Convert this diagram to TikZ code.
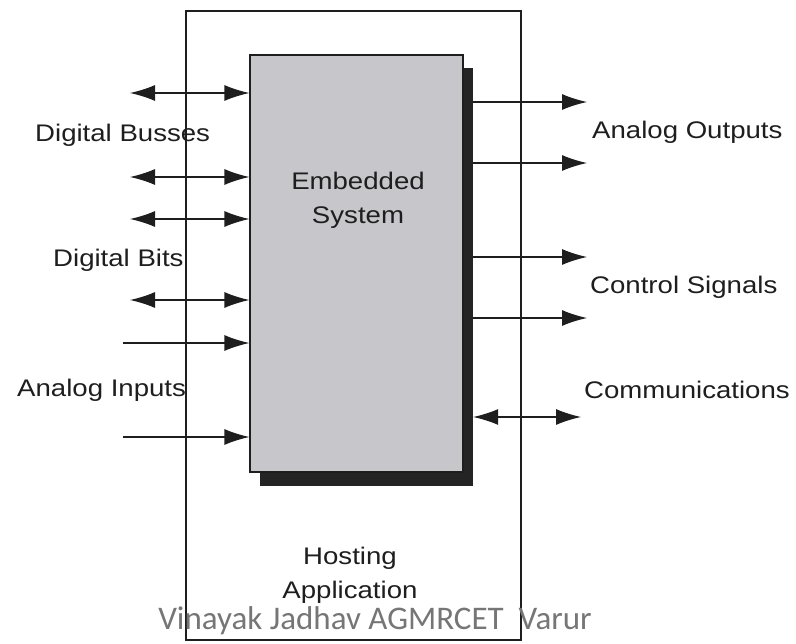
\documentclass[tikz,border=0pt]{standalone}
\usepackage{fontspec}
\setmainfont[FakeStretch=1.15]{Liberation Sans}
\newfontfamily\markfont{Carlito}
\usetikzlibrary{arrows.meta}

\definecolor{boxgray}{RGB}{198,198,203}
\definecolor{shadegray}{RGB}{36,36,36}
\definecolor{inkgray}{RGB}{30,30,30}
\definecolor{markgray}{RGB}{118,118,118}

\begin{document}
\begin{tikzpicture}[x=1pt, y=-1pt, >={Latex[length=25pt,width=16pt]},
    lbl/.style={font=\fontsize{24}{34}\selectfont, inner sep=0pt, text=inkgray},
    sig/.style={line width=1.2pt, draw=inkgray}]
    \useasboundingbox (0,0) rectangle (796,644);

    % hosting application frame
    \node[draw=inkgray, line width=1.3pt, minimum width=335pt, minimum height=629pt]
        (hosting) at (353.5,325.5) {};

    % embedded system with its shadow
    \node[fill=shadegray, minimum width=213pt, minimum height=418pt] (shade) at (366.5,277.5) {};
    \node[draw=inkgray, fill=boxgray, line width=1.2pt, minimum width=213pt, minimum height=417pt]
        (embedded) at (356.5,263.5) {};
    \node[lbl, align=center] (embtext) at (358,200) {Embedded\\System};

    % inputs
    \foreach \n/\y in {1/93,2/177,3/219,4/300} {
        \coordinate (bus\n) at (130,\y);
        \draw[sig, <->] (bus\n) -- (embedded.west |- bus\n);
    }
    \foreach \n/\y in {1/343,2/437} {
        \coordinate (ain\n) at (123,\y);
        \draw[sig, ->] (ain\n) -- (embedded.west |- ain\n);
    }

    % outputs
    \foreach \n/\y in {1/102,2/163,3/257,4/318} {
        \coordinate (out\n) at (587,\y);
        \draw[sig, ->] (shade.east |- out\n) -- (out\n);
    }
    \coordinate (comm) at (581,417);
    \draw[sig, <->] (shade.east |- comm) -- (comm);

    \node[lbl, anchor=west] (busses) at (35,135) {Digital Busses};
    \node[lbl, anchor=west] (bits) at (53,260) {Digital Bits};
    \node[lbl, anchor=west] (ainputs) at (17,390) {Analog Inputs};
    \node[lbl, anchor=west] (aoutputs) at (592,132) {Analog Outputs};
    \node[lbl, anchor=west] (control) at (590,287) {Control Signals};
    \node[lbl, anchor=west] (comms) at (584,390) {Communications};

    \node[lbl, align=center] (hosttext) at (350,575) {Hosting\\Application};

    \node[font=\markfont\fontsize{33}{33}\selectfont, text=markgray, inner sep=0pt]
        (mark) at (375,621) {Vinayak Jadhav AGMRCET\ \ Varur};
\end{tikzpicture}
\end{document}
